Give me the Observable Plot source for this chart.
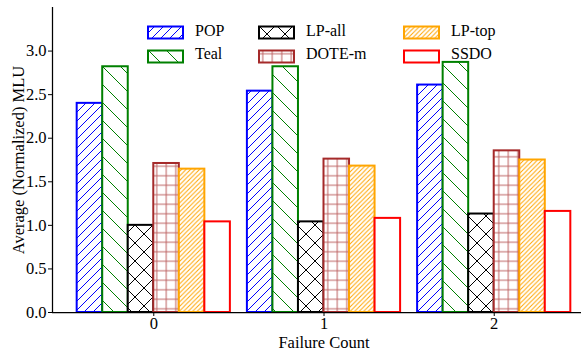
<!DOCTYPE html>
<html><head><meta charset="utf-8">
<script src="https://cdn.jsdelivr.net/npm/d3@7"></script>
<script src="https://cdn.jsdelivr.net/npm/@observablehq/plot@0.6"></script>
<style>
html,body{margin:0;padding:0;background:#fff;overflow:hidden;}
#wrap{position:relative;width:581px;height:353px;overflow:hidden;font-family:"Liberation Serif","Times New Roman",Times,"Nimbus Roman","DejaVu Serif",serif;}
#chart svg{max-width:none !important;}
#legend{position:absolute;left:147px;top:21px;display:grid;grid-template-columns:111px 145px auto;grid-auto-rows:23.5px;font-size:16px;color:#000;}
.item{display:flex;align-items:center;}
.item svg{display:block;margin-right:11px;}
.item span{position:relative;top:-2px;}
</style></head><body>
<svg width="0" height="0" style="position:absolute"><defs id="defs"></defs></svg>
<div id="wrap"><div id="chart"></div><div id="legend"></div></div>
<script>
// ---- data ----
const failureCounts = [0, 1, 2];
const methods = ["POP", "Teal", "LP-all", "DOTE-m", "LP-top", "SSDO"];
const popValues   = [2.40, 2.54, 2.61];
const tealValues  = [2.82, 2.82, 2.87];
const lpAllValues = [1.00, 1.04, 1.13];
const doteMValues = [1.71, 1.76, 1.855];
const lpTopValues = [1.645, 1.68, 1.75];
const ssdoValues  = [1.04, 1.08, 1.16];
const yTicks = [0, 0.5, 1.0, 1.5, 2.0, 2.5, 3.0];
const xTicks = [0, 1, 2];

// ---- styles ----
const series = [popValues, tealValues, lpAllValues, doteMValues, lpTopValues, ssdoValues];
const strokeColors = ["blue", "green", "black", "brown", "orange", "red"];
const hatchKinds = ["/", "\\", "x", "+", "/", ""];
const hatchPeriods = [9, 18, 18, 9.5, 4.5, 0];
const hatchOpacity = [1, 1, 1, 0.75, 1, 1];
const barWidth = 0.15;
const xDomain = [-0.595, 2.595];
const yDomain = [0, 3.5];
const serif = "'Liberation Serif','Times New Roman',Times,'Nimbus Roman','DejaVu Serif',serif";
const tickFontSize = 16.5;
const labelFontSize = 16.5;

// ---- hatch patterns ----
const defs = d3.select("#defs");
methods.forEach((m, i) => {
  const P = hatchPeriods[i];
  const pat = defs.append("pattern").attr("id", "hatch" + i)
    .attr("patternUnits", "userSpaceOnUse")
    .attr("width", P || 10).attr("height", P || 10);
  pat.append("rect").attr("width", P || 10).attr("height", P || 10).attr("fill", "white");
  const k = hatchKinds[i];
  let d = "";
  if (k === "/" || k === "x") d += `M0,${P}L${P},0M${-P/2},${P/2}L${P/2},${-P/2}M${P/2},${P*1.5}L${P*1.5},${P/2}`;
  if (k === "\\" || k === "x") d += `M0,0L${P},${P}M${-P/2},${P/2}L${P/2},${P*1.5}M${P/2},${-P/2}L${P*1.5},${P/2}`;
  if (k === "+") d += `M0,${P/2}L${P},${P/2}M${P/2},0L${P/2},${P}`;
  if (d) pat.append("path").attr("d", d).attr("stroke", strokeColors[i])
    .attr("stroke-opacity", hatchOpacity[i]).attr("stroke-width", 1).attr("fill", "none");
});

// ---- chart ----
const barMarks = methods.map((m, i) =>
  Plot.rectY(failureCounts.map((c, j) => ({count: c, value: series[i][j], method: m})), {
    x1: d => d.count + (i - 3) * barWidth,
    x2: d => d.count + (i - 2) * barWidth,
    y1: 0,
    y2: "value",
    fill: `url(#hatch${i})`,
    stroke: strokeColors[i],
    strokeWidth: 2
  })
);

const chart = Plot.plot({
  width: 595,
  height: 353,
  marginLeft: 52,
  marginRight: 0,
  marginTop: 7,
  marginBottom: 41,
  style: {fontFamily: serif, fontSize: tickFontSize + "px", color: "black", background: "white", overflow: "visible", maxWidth: "none"},
  x: {type: "linear", domain: xDomain, label: null},
  y: {domain: yDomain, label: null},
  marks: [
    ...barMarks,
    Plot.ruleY([yDomain[0]], {stroke: "black", strokeWidth: 1.25}),
    Plot.ruleX([xDomain[0]], {stroke: "black", strokeWidth: 1.25}),
    Plot.axisY(yTicks, {tickFormat: d3.format(".1f"), tickSize: 4, tickPadding: 2, fontSize: tickFontSize, fontFamily: serif, label: null}),
    Plot.axisY([], {tickSize: 0, label: "Average (Normalized) MLU", labelAnchor: "center", labelArrow: "none", labelOffset: 40, fontSize: labelFontSize, fontFamily: serif}),
    Plot.axisX(xTicks, {tickFormat: d3.format("d"), tickSize: 4, tickPadding: 1, fontSize: tickFontSize, fontFamily: serif, label: null}),
    Plot.axisX([], {tickSize: 0, label: "Failure Count", labelAnchor: "center", labelArrow: "none", labelOffset: 35, fontSize: labelFontSize, fontFamily: serif})
  ]
});
document.getElementById("chart").appendChild(chart);

// force serif font on every SVG text of the chart
d3.select(chart).selectAll("text")
  .style("font-family", serif, "important")
  .style("font-variant", "normal", "important");
d3.select(chart).selectAll("g[aria-label$='tick label'] text")
  .style("font-size", tickFontSize + "px", "important");

// ---- legend (3 columns, 2 rows, column-major like the reference) ----
const legend = d3.select("#legend");
const order = [0, 2, 4, 1, 3, 5];
order.forEach(i => {
  const item = legend.append("div").attr("class", "item");
  const sw = item.append("svg").attr("width", 37).attr("height", 15);
  sw.append("rect").attr("x", 1).attr("y", 1.5).attr("width", 35).attr("height", 12)
    .attr("fill", `url(#hatch${i})`).attr("stroke", strokeColors[i]).attr("stroke-width", 2);
  item.append("span").text(methods[i]);
});
</script>
</body></html>
